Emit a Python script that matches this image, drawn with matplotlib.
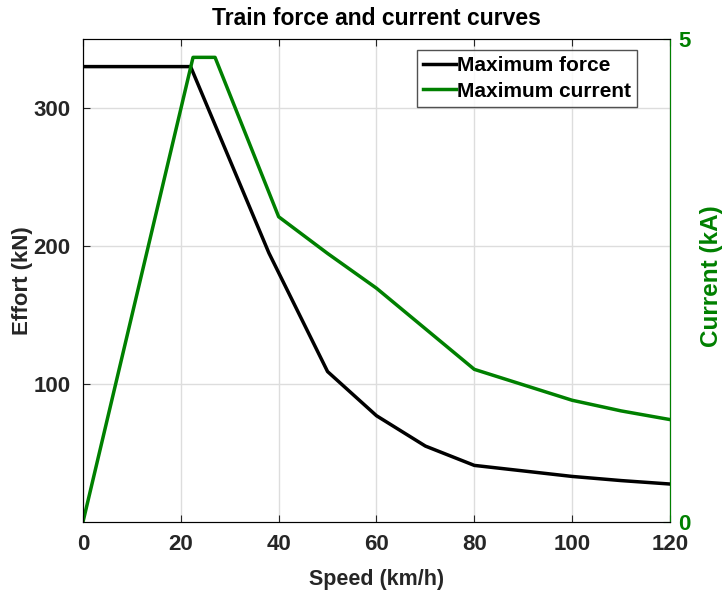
import matplotlib.pyplot as plt

plt.rcParams['font.family'] = ['Liberation Sans', 'DejaVu Sans']
plt.rcParams['font.weight'] = 'bold'

# vitesse (km/h) et effort max (kN)
speed_force = [0, 22, 38, 50, 60, 70, 80, 90, 100, 110, 120]
force = [330, 330, 195, 109, 77, 55, 41, 37, 33, 30, 27.5]

# vitesse (km/h) et courant max (kA)
speed_current = [0, 22.5, 27, 40, 50, 60, 70, 80, 90, 100, 110, 120]
current = [0, 4.81, 4.81, 3.16, 2.78, 2.42, 2.0, 1.58, 1.42, 1.26, 1.15, 1.06]

green = '#008000'

fig = plt.figure(figsize=(7.24, 5.91), dpi=100)
ax1 = fig.add_axes([0.1146, 0.1168, 0.8108, 0.8172])
l1, = ax1.plot(speed_force, force, color='black', linewidth=2.5, label='Maximum force')
ax1.set_xlim(0, 120)
ax1.set_ylim(0, 350)
ax1.set_xticks([0, 20, 40, 60, 80, 100, 120])
ax1.set_yticks([100, 200, 300])
ax1.grid(True, color='#dddddd', linewidth=1)
ax1.set_axisbelow(True)
ax1.tick_params(direction='in', labelsize=16, top=True, length=5, colors='#262626', pad=9)
ax1.set_xlabel('Speed (km/h)', fontsize=15.5, fontweight='bold', color='#262626', labelpad=10)
ax1.set_ylabel('Effort (kN)', fontsize=16, fontweight='bold', color='#262626')
ax1.yaxis.set_label_coords(-0.085, 0.5)
ax1.set_title('Train force and current curves', fontsize=16.5, fontweight='bold', pad=10)
for s in ['left', 'bottom', 'top']:
    ax1.spines[s].set_color('#262626')

ax2 = ax1.twinx()
l2, = ax2.plot(speed_current, current, color=green, linewidth=2.5, label='Maximum current')
ax2.set_ylim(0, 5)
ax2.set_yticks([0, 5])
ax2.tick_params(direction='in', labelsize=16, colors=green, length=5, pad=6)
ax2.spines['right'].set_color(green)
ax2.set_ylabel('Current (kA)', fontsize=17.5, fontweight='bold', color=green)
ax2.yaxis.set_label_coords(1.051, 0.51)

leg = ax2.legend(handles=[l1, l2], loc='upper right', bbox_to_anchor=(0.9445, 0.977),
                 fontsize=15, frameon=True, fancybox=False, edgecolor='#262626',
                 handlelength=1.6, handletextpad=0.05, borderpad=0.3, labelspacing=0.3,
                 borderaxespad=0)
leg.get_frame().set_linewidth(1)

fig.savefig('out.png', dpi=100)
